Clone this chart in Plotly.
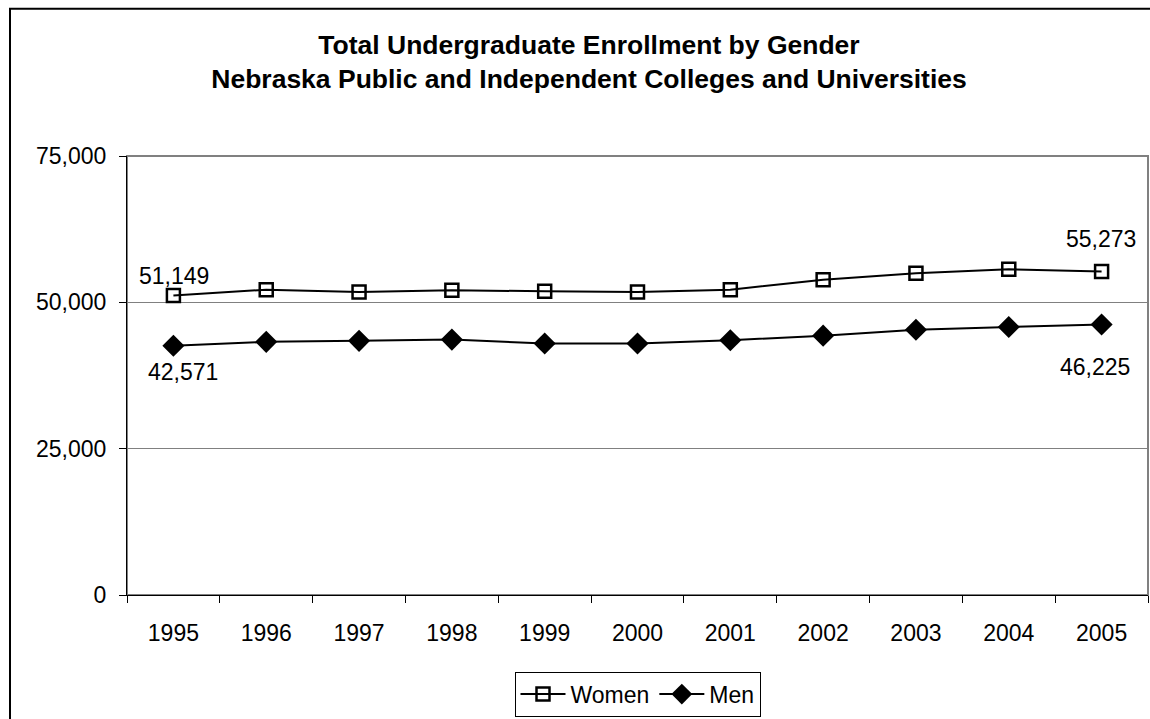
import plotly.graph_objects as go

years = ["1995", "1996", "1997", "1998", "1999", "2000", "2001", "2002", "2003", "2004", "2005"]
women = [51149, 52160, 51774, 52061, 51892, 51774, 52160, 53852, 54983, 55659, 55273]
men = [42571, 43247, 43416, 43635, 42960, 42960, 43534, 44311, 45324, 45780, 46225]

FONT = "Arial, Liberation Sans, sans-serif"
font = dict(family=FONT, size=23, color="black")

fig = go.Figure()
fig.add_trace(go.Scatter(
    x=years, y=women, name="Women", mode="lines+markers",
    line=dict(color="black", width=2),
    marker=dict(symbol="square-open", size=13, color="black", line=dict(width=2.5)),
))
fig.add_trace(go.Scatter(
    x=years, y=men, name="Men", mode="lines+markers",
    line=dict(color="black", width=2),
    marker=dict(symbol="diamond", size=17, color="black"),
))

# value labels on first and last points; x given as category index
last = len(years) - 1
labels = [
    (0, women[0], 1, 20),
    (last, women[last], -1, 32),
    (0, men[0], 10, -26),
    (last, men[last], -7, -43),
]
annotations = [
    dict(x=i, y=v, xref="x", yref="y", text=f"{v:,}", showarrow=False,
         xshift=dx, yshift=dy, font=font, xanchor="center", yanchor="middle")
    for i, v, dx, dy in labels
]

W, H = 1150, 719
l, r, t, b = 127, 2, 156, 116
pw, ph = W - l - r, H - t - b

fig.update_layout(
    width=W, height=H,
    margin=dict(l=l, r=r, t=t, b=b),
    paper_bgcolor="white", plot_bgcolor="white",
    font=font,
    title=dict(
        text="<b>Total Undergraduate Enrollment by Gender<br>Nebraska Public and Independent Colleges and Universities</b>",
        x=589 / W, xanchor="center", y=1 - 54 / H, yanchor="middle",
        font=dict(family=FONT, size=26.5, color="black"),
    ),
    xaxis=dict(
        type="category", tickson="boundaries", ticks="outside", ticklen=7,
        tickcolor="black", showline=True, linecolor="black", linewidth=1,
        showgrid=False, tickfont=font, range=[-0.5, 10.5],
        ticklabelstandoff=17,
    ),
    yaxis=dict(
        range=[0, 75000], tickvals=[0, 25000, 50000, 75000], tickformat=",",
        ticks="outside", ticklen=7, tickcolor="black",
        showline=True, linecolor="black", linewidth=1,
        showgrid=True, gridcolor="#808080", gridwidth=1, zeroline=False,
        tickfont=font, ticklabelstandoff=8,
    ),
    legend=dict(
        orientation="h", x=0.5, xanchor="center", y=-(681 - 603) / ph, yanchor="top",
        bordercolor="black", borderwidth=1, font=font, itemwidth=45,
        traceorder="normal",
    ),
    showlegend=True,
    annotations=annotations,
    shapes=[
        dict(type="rect", xref="paper", yref="paper", x0=0, x1=1, y0=0, y1=1,
             line=dict(color="#808080", width=2), layer="below"),
        dict(type="rect", xref="paper", yref="paper",
             x0=-(l - 10) / pw, x1=1 + (r + 20) / pw, y0=-(b + 20) / ph, y1=1 + (t - 6) / ph,
             line=dict(color="black", width=2)),
    ],
)

fig.write_html("out.html", config={"displayModeBar": False},
               post_script="document.body.style.margin='0';")
